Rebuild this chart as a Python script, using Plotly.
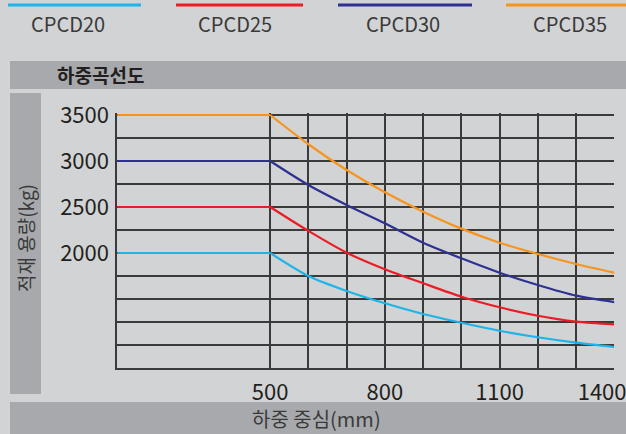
import plotly.graph_objects as go

# ---- data ----
load_center = [100, 500, 600, 700, 800, 900, 1000, 1100, 1200, 1300, 1400]
cpcd20 = [2000, 2000, 1750, 1587, 1453, 1337, 1242, 1155, 1084, 1025, 978]
cpcd25 = [2500, 2500, 2240, 2003, 1823, 1671, 1525, 1410, 1318, 1255, 1225]
cpcd30 = [3000, 3000, 2739, 2522, 2323, 2112, 1942, 1786, 1652, 1536, 1467]
cpcd35 = [3500, 3500, 3182, 2902, 2660, 2449, 2265, 2112, 1989, 1880, 1786]
series_names = ["CPCD20", "CPCD25", "CPCD30", "CPCD35"]
series_values = [cpcd20, cpcd25, cpcd30, cpcd35]

x_grid = [500, 600, 700, 800, 900, 1000, 1100, 1200, 1300, 1400]
x_labels = ["500", "", "", "800", "", "", "1100", "", "", "1400"]
y_grid = [750, 1000, 1250, 1500, 1750, 2000, 2250, 2500, 2750, 3000, 3250, 3500]
y_labels = ["", "", "", "", "", "2000", "", "2500", "", "3000", "", "3500"]

title_text = "하중곡선도"
y_title = "적재 용량(kg)"
x_title = "하중 중심(mm)"

# ---- style ----
colors = ["#1db4ea", "#ed1c24", "#2e3192", "#f7941d"]
BG = "#d1d3d4"
BAR = "#a7a9ac"
GRID = "#3a3a3a"
TXT = "#231f20"
FONT = "Noto Sans CJK KR"
W, H = 626, 434

# last x label sits flush with the right edge in the reference
x_ticktext = list(x_labels)
x_ticktext[-1] = x_ticktext[-1] + "\u2007\u2007"


def px(x):
    return x / W


def py(y):
    return 1 - y / H


fig = go.Figure()
for name, vals, col in zip(series_names, series_values, colors):
    fig.add_trace(go.Scatter(x=load_center[:2], y=vals[:2], mode="lines",
                             line=dict(color=col, width=2.2), name=name,
                             hoverinfo="skip"))
    fig.add_trace(go.Scatter(x=load_center[1:], y=vals[1:], mode="lines",
                             line=dict(color=col, width=2.2, shape="spline", smoothing=0.8),
                             name=name, showlegend=False))

shapes = [
    dict(type="rect", xref="paper", yref="paper", x0=px(10), x1=1, y0=py(89), y1=py(61),
         fillcolor=BAR, line=dict(width=0), layer="below"),
    dict(type="rect", xref="paper", yref="paper", x0=px(10), x1=px(41), y0=py(394), y1=py(93),
         fillcolor=BAR, line=dict(width=0), layer="below"),
    dict(type="rect", xref="paper", yref="paper", x0=px(10), x1=1, y0=0, y1=py(402),
         fillcolor=BAR, line=dict(width=0), layer="below"),
]
legend_spans = [(8, 141), (176, 303), (338, 472), (506, 626)]
legend_centers = [68, 235, 403, 570]
annotations = []
for (a, b), c, col, name in zip(legend_spans, legend_centers, colors, series_names):
    shapes.append(dict(type="line", xref="paper", yref="paper", x0=px(a), x1=px(b),
                       y0=py(5), y1=py(5), line=dict(color=col, width=3)))
    annotations.append(dict(xref="paper", yref="paper", x=px(c), y=py(24), text=name,
                            showarrow=False, font=dict(family=FONT, size=20, color="#3a3a3a"),
                            xanchor="center", yanchor="middle"))

annotations += [
    dict(xref="paper", yref="paper", x=px(101), y=py(75), text="<b>" + title_text + "</b>",
         showarrow=False, font=dict(family=FONT, size=19, color=TXT),
         xanchor="center", yanchor="middle"),
    dict(xref="paper", yref="paper", x=px(26), y=py(238), text=y_title, textangle=-90,
         showarrow=False, font=dict(family=FONT, size=19, color="#3a3a3a"),
         xanchor="center", yanchor="middle"),
    dict(xref="paper", yref="paper", x=px(316), y=py(418), text=x_title,
         showarrow=False, font=dict(family=FONT, size=20, color="#3a3a3a"),
         xanchor="center", yanchor="middle"),
]

# y axis: a little headroom above 3500 so the top line is not clipped
y_top_px = 113
y_top_val = 3500 + (115 - y_top_px) * 2750 / 253

fig.update_layout(
    width=W, height=H, margin=dict(l=0, r=0, t=0, b=0, autoexpand=False),
    paper_bgcolor=BG, plot_bgcolor=BG, showlegend=False,
    shapes=shapes, annotations=annotations,
    xaxis=dict(domain=[px(117.2), px(614.3)], range=[100, 1400], automargin=False,
               tickmode="array", tickvals=x_grid, ticktext=x_ticktext,
               showgrid=True, gridcolor=GRID, gridwidth=1.6,
               showline=True, linecolor=GRID, linewidth=1.6,
               zeroline=False, ticks="", ticklabelstandoff=4, layer="below traces",
               ticklabeloverflow="allow",
               tickfont=dict(family=FONT, size=22, color=TXT)),
    yaxis=dict(domain=[py(368), py(y_top_px)], range=[750, y_top_val], automargin=False,
               tickmode="array", tickvals=y_grid, ticktext=y_labels,
               showgrid=True, gridcolor=GRID, gridwidth=1.6,
               showline=True, linecolor=GRID, linewidth=1.6,
               zeroline=False, ticks="", ticklabelstandoff=2, layer="below traces",
               ticklabeloverflow="allow",
               tickfont=dict(family=FONT, size=22, color=TXT)),
)

fig.write_html("out.html", config={"displayModeBar": False},
               post_script="document.body.style.margin='0px';document.body.style.background='%s';" % BG)
